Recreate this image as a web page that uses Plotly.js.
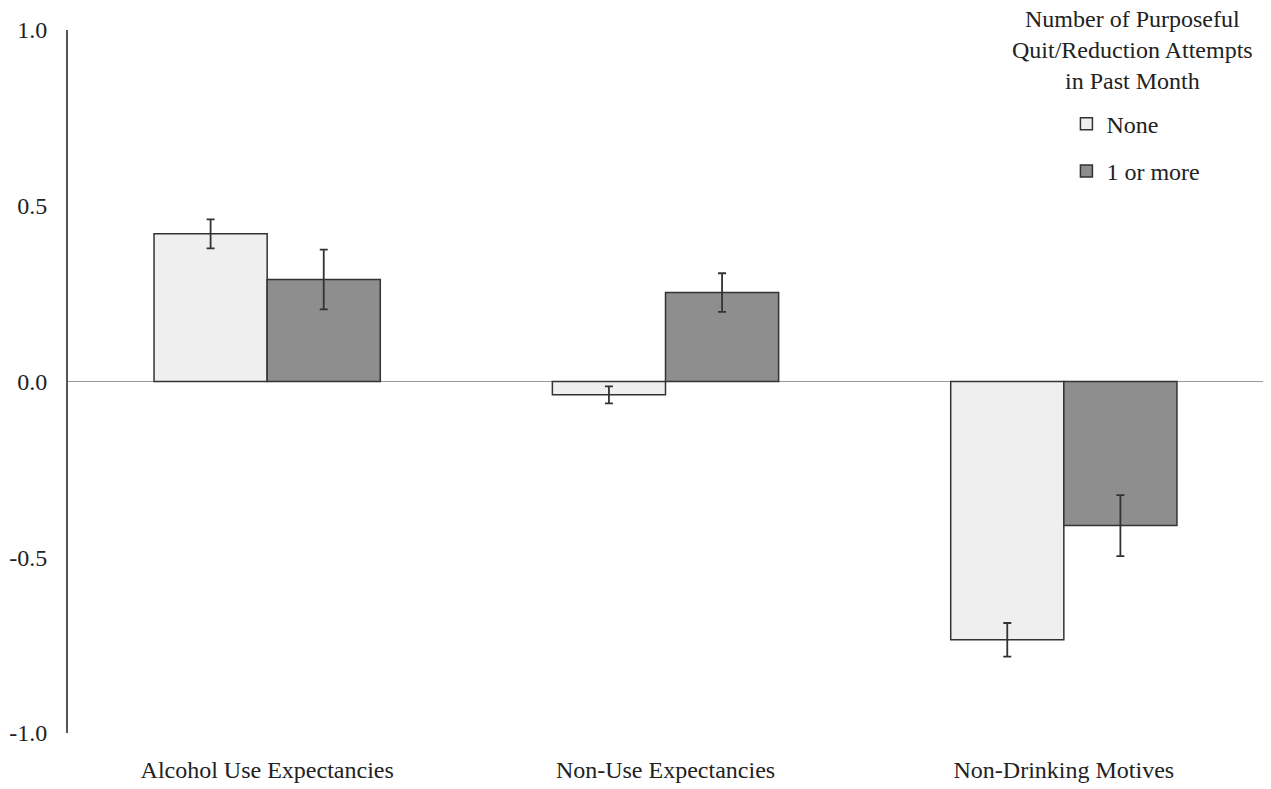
<!DOCTYPE html>
<html>
<head>
<meta charset="utf-8">
<script src="https://cdn.plot.ly/plotly-3.0.1.min.js"></script>
<style>html,body{margin:0;padding:0;background:#fff;}#chart{width:1271px;height:789px;}</style>
</head>
<body>
<div id="chart"></div>
<script>
var categories = ["Alcohol Use Expectancies", "Non-Use Expectancies", "Non-Drinking Motives"];
var seriesNames = ["None", "1 or more"];
var noneValues = [0.42, -0.038, -0.735];
var noneErrors = [0.041, 0.024, 0.048];
var moreValues = [0.29, 0.253, -0.41];
var moreErrors = [0.085, 0.055, 0.087];
var yTickVals = [1.0, 0.5, 0.0, -0.5, -1.0];
var yTickText = ["1.0", "0.5", "0.0", "-0.5", "-1.0"];
var legendTitle = "Number of Purposeful<br>Quit/Reduction Attempts<br>in Past Month";

var font = "Liberation Serif";
var errStyle = {type: "data", visible: true, color: "#333333", thickness: 1.8, width: 4};

var traces = [
  {type: "bar", name: seriesNames[0], x: categories, y: noneValues, legendgroup: "a",
   error_y: Object.assign({array: noneErrors}, errStyle),
   marker: {color: "#efefef", line: {color: "#333333", width: 1.5}}},
  {type: "bar", name: seriesNames[1], x: categories, y: moreValues, legendgroup: "b",
   error_y: Object.assign({array: moreErrors}, errStyle),
   marker: {color: "#8e8e8e", line: {color: "#333333", width: 1.5}}}
];

var layout = {
  width: 1271, height: 789,
  margin: {l: 68, r: 8, t: 30, b: 56},
  paper_bgcolor: "#ffffff", plot_bgcolor: "#ffffff",
  font: {family: font, size: 24, color: "#222222"},
  barmode: "group", bargap: 0.432, bargroupgap: 0,
  showlegend: true,
  legend: {x: 0.8355, xanchor: "left", y: 0.898, yanchor: "top",
           tracegroupgap: 13, font: {family: font, size: 24, color: "#222222"},
           bgcolor: "rgba(0,0,0,0)"},
  xaxis: {showline: false, showgrid: false, zeroline: false, ticks: "",
          ticklabelstandoff: 20, tickfont: {family: font, size: 24, color: "#222222"}},
  yaxis: {range: [-1, 1], showgrid: false, showline: true, linecolor: "#555555", linewidth: 2,
          zeroline: true, zerolinecolor: "#999999", zerolinewidth: 1,
          ticks: "", tickvals: yTickVals, ticktext: yTickText, ticklabelstandoff: 14,
          tickfont: {family: font, size: 24, color: "#222222"}},
  annotations: [{text: legendTitle, xref: "paper", yref: "paper", x: 0.891, y: 0.9716,
                 xanchor: "center", yanchor: "middle", showarrow: false, align: "center",
                 font: {family: font, size: 24, color: "#222222"}}]
};

Plotly.newPlot("chart", traces, layout, {displayModeBar: false, staticPlot: true});
</script>
</body>
</html>
